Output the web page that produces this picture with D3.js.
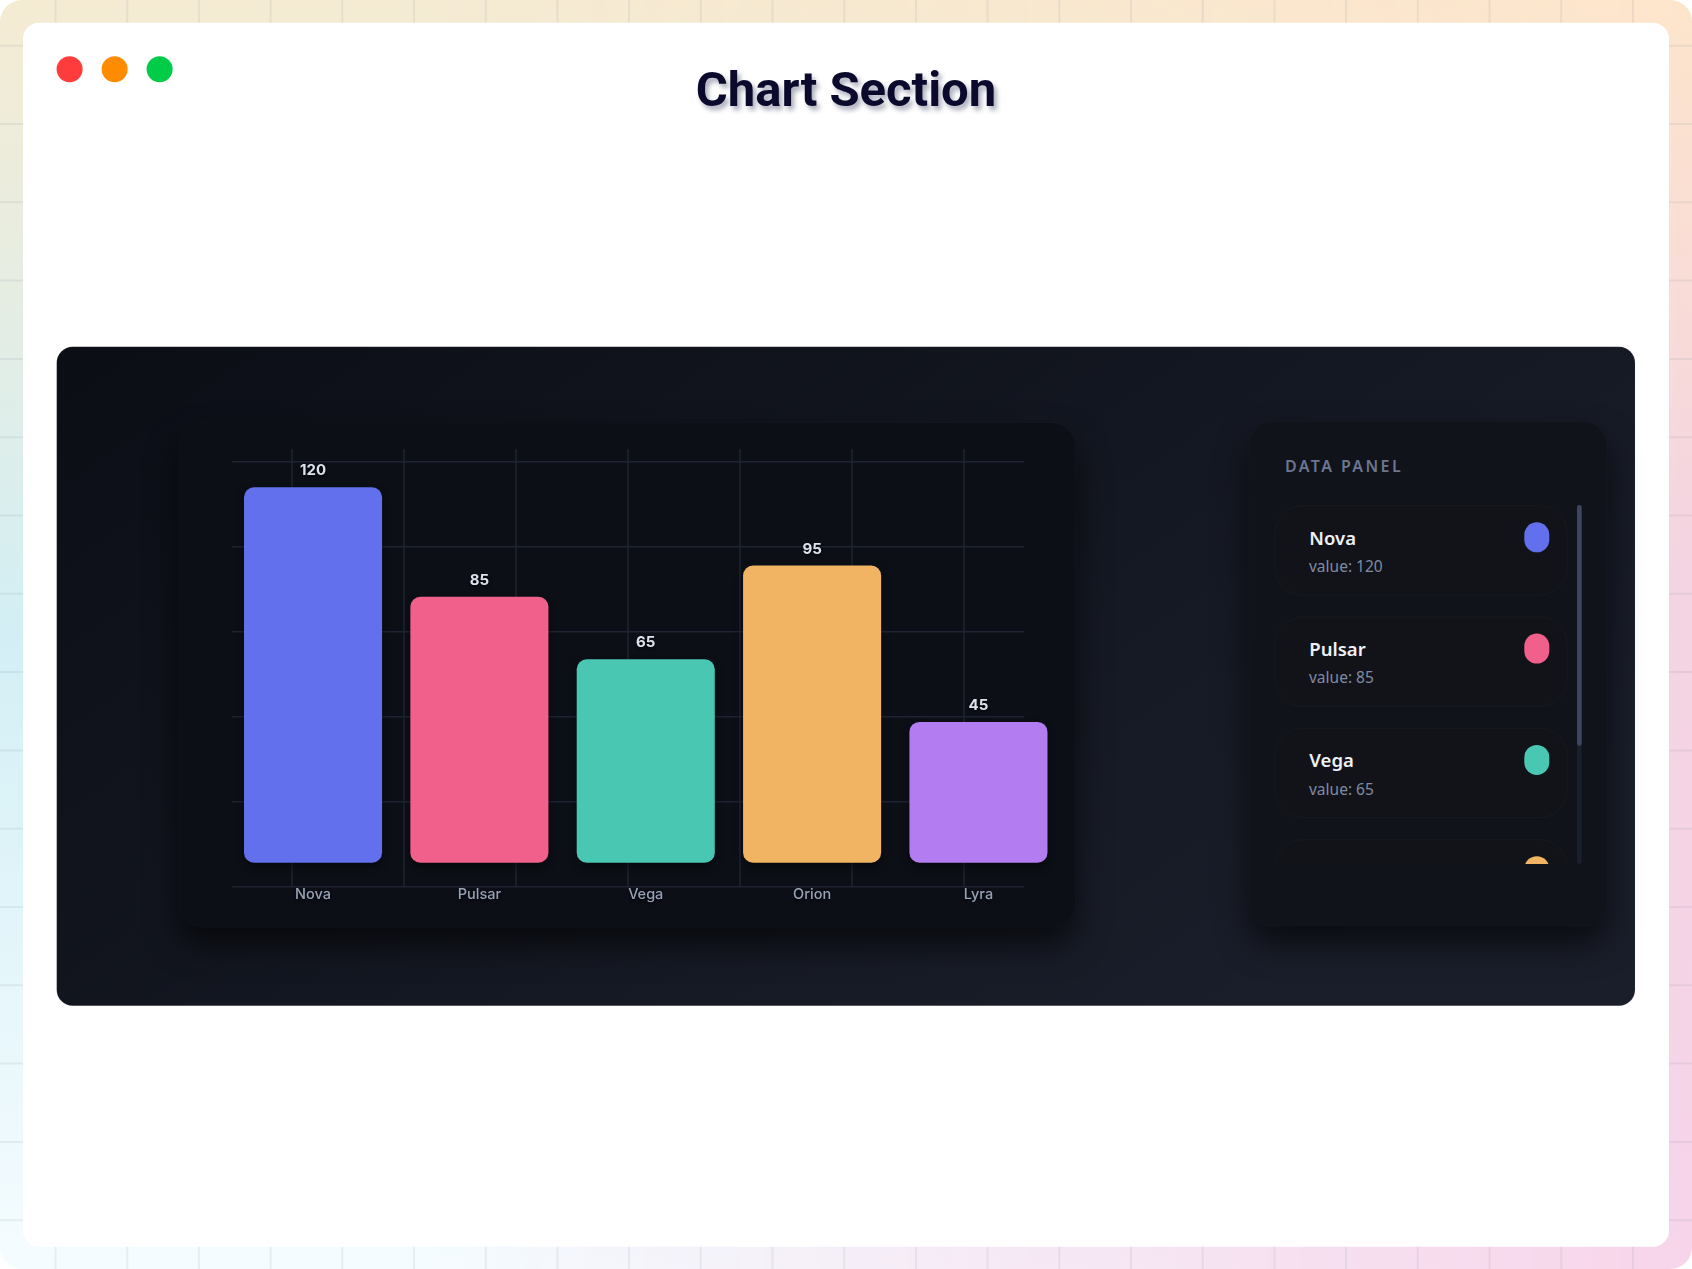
<!DOCTYPE html>
<html lang="en">
<head>
    <meta charset="UTF-8">
    <title>Chart Section</title>
    <script src="https://d3js.org/d3.v7.min.js"></script>
    <style>
        body { margin: 0; background: #fff; }
        svg { display: block; }
    </style>
</head>
<body>
    <script>
        // chart data
        const categories = ['Nova', 'Pulsar', 'Vega', 'Orion', 'Lyra'];
        const values = [120, 85, 65, 95, 45];
        const barColors = ['#6270ee', '#f0608b', '#4ac7b3', '#f0b462', '#b37cf0'];
        const dotColors = ['#ff3c3c', '#ff8c00', '#00cc48'];

        const W = 1692, H = 1269;

        const svg = d3.select('body').append('svg')
            .attr('width', W)
            .attr('height', H);

        const defs = svg.append('defs');

        function linGrad(id, x2, y2, stops) {
            const g = defs.append('linearGradient')
                .attr('id', id)
                .attr('x1', 0).attr('y1', 0).attr('x2', x2).attr('y2', y2);
            g.selectAll('stop').data(stops).enter().append('stop')
                .attr('offset', d => d[0])
                .attr('stop-color', d => d[1])
                .attr('stop-opacity', d => d[2] === undefined ? 1 : d[2]);
        }

        function shadow(id, dx, dy, sd, color, op) {
            defs.append('filter')
                .attr('id', id)
                .attr('x', '-30%').attr('y', '-30%')
                .attr('width', '160%').attr('height', '170%')
                .attr('color-interpolation-filters', 'sRGB')
                .append('feDropShadow')
                .attr('dx', dx).attr('dy', dy)
                .attr('stdDeviation', sd)
                .attr('flood-color', color)
                .attr('flood-opacity', op);
        }

        linGrad('bgLeft', 0, 1, [[0, '#f5ebd3'], [0.5, '#d3eff5'], [1, '#f5fcff']]);
        linGrad('bgRight', 0, 1, [[0, '#fde5cb'], [0.45, '#f4d3e2'], [1, '#f7d4ea']]);
        linGrad('fadeRight', 1, 0, [[0.25, '#fff', 0], [1, '#fff', 1]]);
        linGrad('darkPanel', 1, 0.6, [[0, '#0b0e15'], [1, '#1a1e2a']]);

        defs.append('mask').attr('id', 'rightMask')
            .append('rect').attr('width', W).attr('height', H).attr('fill', 'url(#fadeRight)');

        shadow('titleShadow', 3, 4, 2.5, '#3c4262', 0.45);
        shadow('cardShadow', 0, 18, 16, '#000', 0.6);
        shadow('barShadow', 0, 4, 4, '#000', 0.45);
        shadow('textShadow', 0, 1.5, 1.5, '#000', 0.8);

        // outer pastel frame
        defs.append('clipPath').attr('id', 'outerClip')
            .append('rect').attr('width', W).attr('height', H).attr('rx', 22);

        const outer = svg.append('g').attr('clip-path', 'url(#outerClip)');
        outer.append('rect').attr('width', W).attr('height', H).attr('fill', 'url(#bgLeft)');
        outer.append('rect').attr('width', W).attr('height', H)
            .attr('fill', 'url(#bgRight)')
            .attr('mask', 'url(#rightMask)');

        outer.selectAll('.vgrid').data(d3.range(0, 24)).enter().append('line')
            .attr('x1', i => 55.5 + i * 71.7).attr('x2', i => 55.5 + i * 71.7)
            .attr('y1', 0).attr('y2', H)
            .attr('stroke', 'rgba(100,116,139,0.10)').attr('stroke-width', 2);
        outer.selectAll('.hgrid').data(d3.range(0, 17)).enter().append('line')
            .attr('y1', i => 45.7 + i * 78.3).attr('y2', i => 45.7 + i * 78.3)
            .attr('x1', 0).attr('x2', W)
            .attr('stroke', 'rgba(100,116,139,0.10)').attr('stroke-width', 2);

        // white window
        svg.append('rect')
            .attr('x', 23).attr('y', 22.7)
            .attr('width', 1646).attr('height', 1224)
            .attr('rx', 16)
            .attr('fill', '#fff');

        svg.selectAll('.dot').data(dotColors).enter().append('circle')
            .attr('cx', (d, i) => 69.6 + i * 45)
            .attr('cy', 69.3)
            .attr('r', 13)
            .attr('fill', d => d);

        svg.append('text')
            .attr('x', 846).attr('y', 105.7)
            .attr('text-anchor', 'middle')
            .attr('font-family', 'Roboto, sans-serif')
            .attr('font-weight', 700)
            .attr('font-size', 49)
            .attr('fill', '#0b0a2c')
            .attr('filter', 'url(#titleShadow)')
            .text('Chart Section');

        // dark section
        svg.append('rect')
            .attr('x', 56.7).attr('y', 346.7)
            .attr('width', 1578.3).attr('height', 659)
            .attr('rx', 16)
            .attr('fill', 'url(#darkPanel)')
            .attr('stroke', 'rgba(255,255,255,0.05)');

        // chart card
        svg.append('rect')
            .attr('x', 179.3).attr('y', 422.7)
            .attr('width', 896.2).attr('height', 504.6)
            .attr('rx', 24)
            .attr('fill', '#0c0f16')
            .attr('stroke', 'rgba(255,255,255,0.02)')
            .attr('filter', 'url(#cardShadow)');

        // decorative grid behind the bars
        const gridY = d3.scaleLinear().domain([0, 5]).range([886.7, 461.7]);
        const gridX = d3.scaleLinear().domain([0, 6]).range([292, 964]);
        const grid = svg.append('g').attr('stroke', '#1e2432').attr('stroke-width', 1.5);

        grid.selectAll('.gy').data(d3.range(0, 6)).enter().append('line')
            .attr('x1', 231.7).attr('x2', 1024.4)
            .attr('y1', d => gridY(d)).attr('y2', d => gridY(d));
        grid.selectAll('.gx').data(d3.range(0, 7)).enter().append('line')
            .attr('x1', d => gridX(d)).attr('x2', d => gridX(d))
            .attr('y1', 449).attr('y2', 887);

        const x = d3.scaleBand()
            .domain(categories)
            .range([244, 1047.5])
            .paddingInner(0.17)
            .paddingOuter(0);

        const y = d3.scaleLinear()
            .domain([0, 120])
            .range([862.7, 487.3]);

        const data = categories.map((c, i) => ({ name: c, value: values[i], color: barColors[i] }));

        svg.selectAll('.bar').data(data).enter().append('rect')
            .attr('class', 'bar')
            .attr('x', d => x(d.name))
            .attr('y', d => y(d.value))
            .attr('width', x.bandwidth())
            .attr('height', d => y(0) - y(d.value))
            .attr('rx', 10)
            .attr('fill', d => d.color)
            .attr('filter', 'url(#barShadow)');

        svg.selectAll('.val').data(data).enter().append('text')
            .attr('x', d => x(d.name) + x.bandwidth() / 2)
            .attr('y', d => y(d.value) - 12)
            .attr('text-anchor', 'middle')
            .attr('font-family', 'Inter, sans-serif')
            .attr('font-weight', 700)
            .attr('font-size', 15)
            .attr('fill', '#dde3ee')
            .attr('filter', 'url(#textShadow)')
            .text(d => d.value);

        svg.selectAll('.cat').data(data).enter().append('text')
            .attr('x', d => x(d.name) + x.bandwidth() / 2)
            .attr('y', 899.3)
            .attr('text-anchor', 'middle')
            .attr('font-family', 'Inter, sans-serif')
            .attr('font-weight', 500)
            .attr('font-size', 14.5)
            .attr('fill', '#98a3b8')
            .attr('filter', 'url(#textShadow)')
            .text(d => d.name);

        // data panel
        svg.append('rect')
            .attr('x', 1249).attr('y', 421.7)
            .attr('width', 358).attr('height', 504.3)
            .attr('rx', 24)
            .attr('fill', '#10131a')
            .attr('stroke', 'rgba(255,255,255,0.02)')
            .attr('filter', 'url(#cardShadow)');

        svg.append('text')
            .attr('x', 1285).attr('y', 472.3)
            .attr('font-family', '"Noto Sans", sans-serif')
            .attr('font-weight', 600)
            .attr('font-size', 16)
            .attr('letter-spacing', 2.4)
            .attr('fill', '#6b7690')
            .text('DATA PANEL');

        const listTop = 505, listBottom = 864;
        defs.append('clipPath').attr('id', 'listClip')
            .append('rect')
            .attr('x', 1268).attr('y', listTop)
            .attr('width', 306).attr('height', listBottom - listTop);

        const itemY = d3.scaleBand()
            .domain(categories)
            .range([505.7, 1040.2])
            .paddingInner(0.1977)
            .paddingOuter(0);

        const list = svg.append('g').attr('clip-path', 'url(#listClip)');
        const item = list.selectAll('.item').data(data).enter().append('g')
            .attr('transform', d => `translate(0,${itemY(d.name)})`);

        item.append('rect')
            .attr('x', 1275).attr('y', 0)
            .attr('width', 292.3).attr('height', itemY.bandwidth())
            .attr('rx', 28)
            .attr('fill', '#121318')
            .attr('stroke', 'rgba(255,255,255,0.03)');

        item.append('text')
            .attr('x', 1309.3).attr('y', 39)
            .attr('font-family', '"Noto Sans", sans-serif')
            .attr('font-weight', 600)
            .attr('font-size', 18.5)
            .attr('fill', '#eef1f6')
            .text(d => d.name);

        item.append('text')
            .attr('x', 1309).attr('y', 66.3)
            .attr('font-family', '"Noto Sans", sans-serif')
            .attr('font-size', 15.5)
            .attr('fill', '#7f8ba3')
            .text(d => `value: ${d.value}`);

        item.append('rect')
            .attr('x', 1524.3).attr('y', 16.6)
            .attr('width', 25).attr('height', 30)
            .attr('rx', 12.5)
            .attr('fill', d => d.color);

        // scrollbar
        const contentH = itemY.range()[1] - listTop;
        const viewH = listBottom - listTop;
        svg.append('rect')
            .attr('x', 1577).attr('y', listTop)
            .attr('width', 4.7).attr('height', viewH)
            .attr('rx', 2.4)
            .attr('fill', '#1a1f2c');
        svg.append('rect')
            .attr('x', 1577).attr('y', listTop)
            .attr('width', 4.7).attr('height', viewH * viewH / contentH)
            .attr('rx', 2.4)
            .attr('fill', '#3b4660');
    </script>
</body>
</html>
